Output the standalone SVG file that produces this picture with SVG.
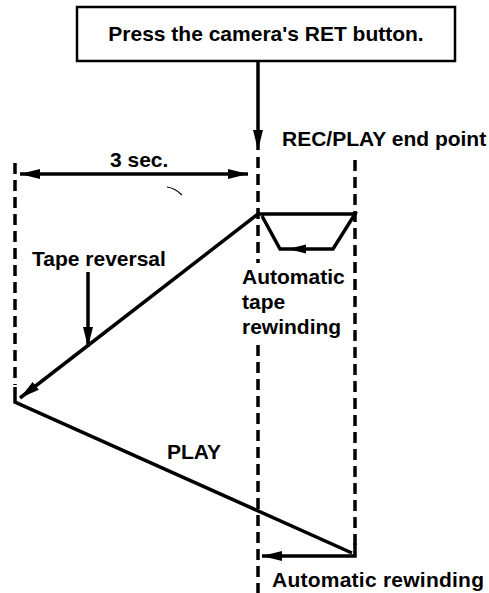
<svg xmlns="http://www.w3.org/2000/svg" width="489" height="593" viewBox="0 0 489 593">
<style>
text{font-family:"Liberation Sans",Arial,sans-serif;font-weight:bold;font-size:21px;fill:#000}
.s{stroke:#000;stroke-width:3.5;fill:none;stroke-linejoin:miter}
.d{stroke:#000;stroke-width:3.5;fill:none;stroke-dasharray:11 6}
</style>
<defs>
<marker id="ah" viewBox="0 0 20 10" refX="20" refY="5" markerWidth="20" markerHeight="10" markerUnits="userSpaceOnUse" orient="auto-start-reverse">
<path d="M0,0 L20,5 L0,10 Z" fill="#000"/>
</marker>
</defs>
<rect width="489" height="593" fill="#fff"/>
<g id="box">
<rect x="77" y="7" width="378" height="54" fill="#fff" stroke="#000" stroke-width="2.5"/>
<text x="266" y="41" text-anchor="middle">Press the camera's RET button.</text>
</g>
<g id="labels">
<text x="282" y="146">REC/PLAY end point</text>
<text x="110" y="167">3 sec.</text>
<text x="32" y="266">Tape reversal</text>
<text x="242" y="284">Automatic</text>
<text x="242" y="309">tape</text>
<text x="242" y="334">rewinding</text>
<text x="167" y="459">PLAY</text>
<text x="272" y="587" textLength="212">Automatic rewinding</text>
</g>
<g id="guides">
<line class="d" x1="15" y1="163" x2="15" y2="385"/>
<line class="d" x1="258" y1="157" x2="258" y2="263"/>
<line class="d" x1="258" y1="345" x2="258" y2="593"/>
<line class="d" x1="355" y1="160" x2="355" y2="545"/>
</g>
<g id="connectors">
<line class="s" x1="258" y1="61" x2="258" y2="150" marker-end="url(#ah)"/>
<line class="s" x1="20" y1="174" x2="248" y2="174" marker-start="url(#ah)" marker-end="url(#ah)"/>
<line class="s" x1="258" y1="214" x2="20" y2="398" marker-end="url(#ah)"/>
<polyline class="s" points="258,214 355,214 333,249 280,249 262,216"/>
<path d="M288,249 L306,244.5 L306,253.5 Z" fill="#000"/>
<line class="s" x1="88" y1="272" x2="88" y2="347" marker-end="url(#ah)"/>
<polyline class="s" points="15,387 15,402 352,553"/>
<polyline class="s" points="355,543 355,556 262,556" marker-end="url(#ah)"/>
<path d="M167,187 Q175,188 182,195" stroke="#000" stroke-width="1.2" fill="none"/>
</g>
</svg>
